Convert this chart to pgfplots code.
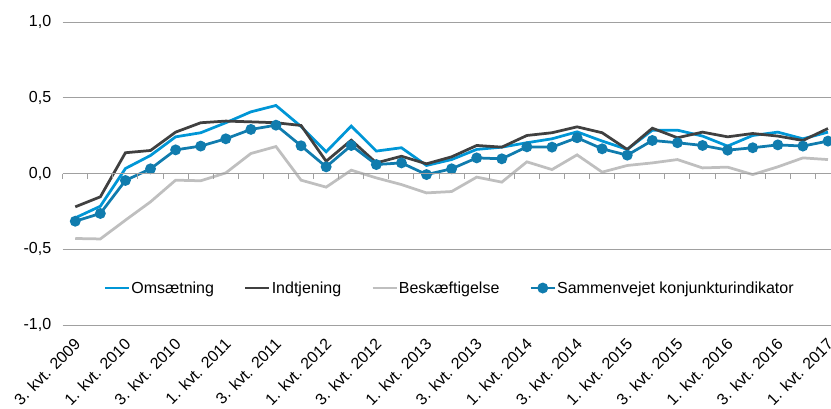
\documentclass[border=0pt]{standalone}
\usepackage{fontspec}
\setmainfont{Liberation Sans}
\usepackage{pgfplots}
\usepackage{pgfplotstable}
\pgfplotsset{compat=1.18}

\definecolor{omsblue}{RGB}{0,150,214}
\definecolor{sammblue}{RGB}{16,124,174}
\definecolor{indgray}{RGB}{64,64,64}
\definecolor{beskgray}{RGB}{191,191,191}
\definecolor{gridgray}{RGB}{160,160,160}

% kvartaler: 0 = 3. kvt. 2009 ... 30 = 1. kvt. 2017
\pgfplotstableread{
i  oms    ind    besk    samm
0  -0.293 -0.220 -0.429 -0.315
1  -0.216 -0.154 -0.432 -0.264
2  0.033  0.137  -0.308 -0.046
3  0.119  0.152  -0.187 0.031
4  0.242  0.273  -0.044 0.156
5  0.269  0.335  -0.048 0.181
6  0.335  0.346  0.004  0.229
7  0.407  0.341  0.132  0.291
8  0.449  0.335  0.178  0.319
9  0.310  0.317  -0.044 0.183
10 0.143  0.081  -0.090 0.044
11 0.313  0.220  0.022  0.185
12 0.148  0.070  -0.029 0.059
13 0.170  0.114  -0.073 0.070
14 0.053  0.064  -0.128 -0.007
15 0.092  0.110  -0.119 0.031
16 0.159  0.185  -0.024 0.103
17 0.174  0.174  -0.057 0.097
18 0.203  0.251  0.077  0.176
19 0.229  0.269  0.026  0.174
20 0.275  0.308  0.123  0.236
21 0.214  0.269  0.009  0.163
22 0.159  0.159  0.053  0.121
23 0.286  0.299  0.070  0.218
24 0.286  0.236  0.092  0.203
25 0.247  0.273  0.037  0.185
26 0.181  0.242  0.042  0.154
27 0.251  0.264  -0.007 0.170
28 0.273  0.247  0.044  0.189
29 0.229  0.218  0.103  0.181
30 0.273  0.297  0.092  0.214
}\data

\newcommand{\lbl}{\fontsize{16}{19}\selectfont}

\begin{document}
\begin{tikzpicture}
\begin{axis}[
    name=main,
    scale only axis,
    width=768.3pt, height=303pt,
    xmin=-0.5, xmax=30.12,
    ymin=-1, ymax=1,
    axis line style={draw=none},
    tick style={draw=none},
    ytick={-1,-0.5,0,0.5,1},
    yticklabels={{-1,0},{-0,5},{0,0},{0,5},{1,0}},
    yticklabel style={font=\lbl, xshift=-8pt},
    ymajorgrids=true,
    grid style={gridgray, line width=1pt},
    xtick={0,2,...,30},
    xticklabels={3. kvt. 2009, 1. kvt. 2010, 3. kvt. 2010, 1. kvt. 2011,
        3. kvt. 2011, 1. kvt. 2012, 3. kvt. 2012, 1. kvt. 2013,
        3. kvt. 2013, 1. kvt. 2014, 3. kvt. 2014, 1. kvt. 2015,
        3. kvt. 2015, 1. kvt. 2016, 3. kvt. 2016, 1. kvt. 2017},
    xticklabel style={font=\lbl, inner sep=0pt, xshift=-2pt, yshift=-12pt,
        rotate=45, anchor=north east},
    clip=false,
    legend columns=-1,
    legend style={at={(0.503,0.122)}, anchor=center, draw=none, fill=none,
        font=\lbl, nodes={inner sep=1pt},
        /tikz/every even column/.append style={column sep=29pt}},
    legend image code/.code={
        \draw[mark repeat=2, mark phase=2, #1]
            plot coordinates {(0pt,0pt) (12pt,0pt) (24pt,0pt)};},
]
\addplot[omsblue, line width=2.75pt] table[x=i, y=oms] {\data};
\addlegendentry{Omsætning}
\addplot[indgray, line width=2.75pt] table[x=i, y=ind] {\data};
\addlegendentry{Indtjening}
\addplot[beskgray, line width=2.75pt] table[x=i, y=besk] {\data};
\addlegendentry{Beskæftigelse}
\addplot[sammblue, line width=2.75pt, mark=*, mark size=4pt,
    mark options={solid, draw=none, fill=sammblue}] table[x=i, y=samm] {\data};
\addlegendentry{Sammenvejet konjunkturindikator}
\end{axis}

% nullinjen med kategoriafmærkninger
\begin{axis}[
    at={(0pt,151.5pt)},
    scale only axis,
    width=768.3pt, height=151.5pt,
    xmin=-0.5, xmax=30.12,
    ymin=0, ymax=1,
    axis x line=bottom,
    axis y line=none,
    axis line style={-, gridgray, line width=1pt},
    xtick={-0.5,0.5,...,29.5},
    xticklabels={},
    xtick align=outside,
    major tick length=5pt,
    tick style={gridgray, line width=1pt},
]
\end{axis}

\pgfresetboundingbox
\path[use as bounding box] ([shift={(-62.7pt,-83pt)}]main.south west) rectangle ++(831pt,408pt);
\end{tikzpicture}
\end{document}
